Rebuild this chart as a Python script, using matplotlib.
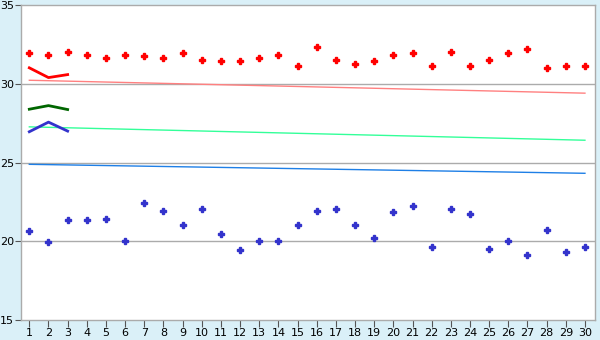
import numpy as np
import matplotlib
matplotlib.use("Agg")
import matplotlib.pyplot as plt

# x positions / tick labels
days = list(range(1, 31))

# upper scatter (red) and lower scatter (blue)
red_points = [31.95, 31.82, 32.01, 31.82, 31.63, 31.82, 31.76, 31.63, 31.95, 31.5,
              31.44, 31.44, 31.63, 31.82, 31.12, 32.33, 31.5, 31.25, 31.44, 31.82,
              31.95, 31.12, 32.01, 31.12, 31.5, 31.95, 32.2, 31.0, 31.12, 31.12]
blue_points = [20.64, 19.94, 21.33, 21.33, 21.4, 20.0, 22.41, 21.9, 21.02, 22.03,
               20.44, 19.43, 20.0, 20.0, 21.02, 21.9, 22.03, 21.02, 20.19, 21.84,
               22.22, 19.62, 22.03, 21.71, 19.49, 20.0, 19.11, 20.7, 19.3, 19.62]

# long trend lines (start / end)
trend_x = [1, 30]
pink_trend = [30.23, 29.41]
green_trend = [27.27, 26.42]
blue_trend = [24.89, 24.32]

# short lines over the first three days
short_x = [1, 2, 3]
red_short = [31.02, 30.4, 30.59]
darkgreen_short = [28.39, 28.62, 28.37]
navy_short = [26.96, 27.57, 27.0]

fig = plt.figure(figsize=(6, 3.4), dpi=100)
fig.patch.set_facecolor("#DAF0F8")
ax = fig.add_axes([0.0345, 0.0588, 0.957, 0.926])
ax.set_facecolor("white")

for y in [20, 25, 30]:
    ax.axhline(y, color="#ABABAB", lw=1, zorder=1)

ax.plot(trend_x, pink_trend, color="#FF8080", lw=1, zorder=2)
ax.plot(trend_x, green_trend, color="#33FF99", lw=1, zorder=2)
ax.plot(trend_x, blue_trend, color="#1E7FE6", lw=1, zorder=2)

ax.plot(short_x, red_short, color="#FF0000", lw=2, zorder=3)
ax.plot(short_x, darkgreen_short, color="#006600", lw=2, zorder=3)
ax.plot(short_x, navy_short, color="#3333CC", lw=2, zorder=3)

ax.plot(days, red_points, ls="none", marker="P", ms=4.5, color="#FF0000", zorder=4)
ax.plot(days, blue_points, ls="none", marker="P", ms=4.5, color="#3333CC", zorder=4)

ax.set_xlim(0.55, 30.52)
ax.set_ylim(15, 35)
ax.set_xticks(days)
ax.set_xticklabels([str(d) for d in days])
ax.set_yticks([15, 20, 25, 30, 35])

for s in ax.spines.values():
    s.set_color("#ABABAB")
    s.set_linewidth(1)

ax.tick_params(axis="x", length=5, color="#555555", labelsize=8, pad=1)
ax.tick_params(axis="y", length=4, color="#555555", labelsize=8, pad=1)

plt.savefig("out.png", dpi=100, facecolor=fig.get_facecolor())
